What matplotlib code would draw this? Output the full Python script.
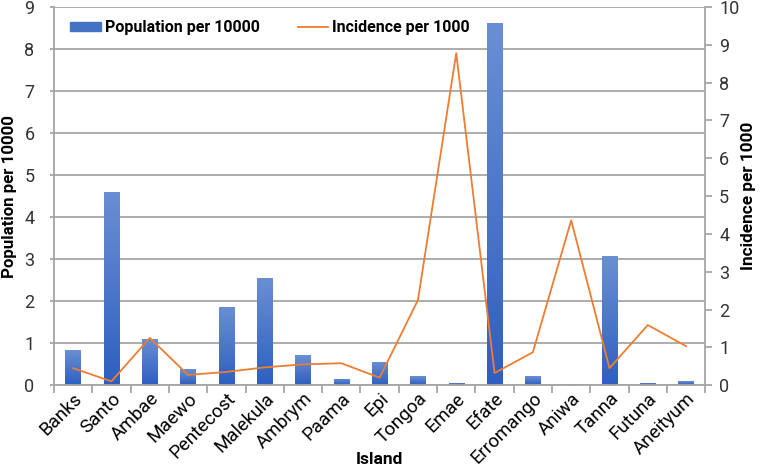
import numpy as np
import matplotlib.pyplot as plt
from matplotlib.colors import LinearSegmentedColormap
from matplotlib.patches import Patch
from matplotlib.lines import Line2D

plt.rcParams['font.family'] = ['Roboto', 'DejaVu Sans']

islands = ['Banks', 'Santo', 'Ambae', 'Maewo', 'Pentecost', 'Malekula', 'Ambrym',
           'Paama', 'Epi', 'Tongoa', 'Emae', 'Efate', 'Erromango', 'Aniwa',
           'Tanna', 'Futuna', 'Aneityum']
population = [0.83, 4.6, 1.1, 0.38, 1.86, 2.55, 0.71, 0.15, 0.55, 0.21, 0.06,
              8.62, 0.21, 0.02, 3.07, 0.05, 0.09]
incidence = [0.45, 0.1, 1.25, 0.27, 0.35, 0.47, 0.55, 0.58, 0.2, 2.25, 8.78,
             0.32, 0.87, 4.36, 0.45, 1.59, 1.03]

fig = plt.figure(figsize=(7.6, 4.68), dpi=100)
ax = fig.add_axes([0.071, 0.177, 0.857, 0.808])
ax2 = ax.twinx()

x = np.arange(len(islands))
w = 0.4
bars = ax.bar(x, population, width=w, color='#4472C4', zorder=2)

# vertical gradient inside each bar (light top, dark bottom)
cmap = LinearSegmentedColormap.from_list('g', ['#2E5FC0', '#6A8FD3'])
grad = np.linspace(0, 1, 256).reshape(-1, 1)
for b in bars:
    h = b.get_height()
    im = ax.imshow(grad, cmap=cmap, aspect='auto', origin='lower',
                   extent=[b.get_x(), b.get_x() + w, 0, h], zorder=2)
    im.set_clip_path(b)

ax2.plot(x, incidence, color='#ED7D31', lw=1.3, zorder=3)

ax.set_xlim(-0.5, len(islands) - 0.5)
ax.set_ylim(0, 9)
ax2.set_ylim(0, 10)
ax.set_yticks(range(10))
ax2.set_yticks(range(11))

ax.grid(axis='y', color='#A6A6A6', lw=1.3, zorder=0)
ax.set_axisbelow(True)

for a in (ax, ax2):
    a.spines['top'].set_visible(False)
    for s in ('left', 'right', 'bottom'):
        a.spines[s].set_color('#A6A6A6')
        a.spines[s].set_linewidth(1.3)
ax.spines['right'].set_visible(False)
ax2.spines['left'].set_visible(False)
ax2.spines['bottom'].set_visible(False)

ax.set_xticks(x)
ax.set_xticklabels(islands, rotation=45, ha='right', va='top',
                   rotation_mode='anchor', fontsize=13.5)
ax.tick_params(axis='x', length=0, pad=3)
ax.set_xticks(np.arange(-0.5, len(islands)), minor=True)
ax.tick_params(axis='x', which='minor', length=6, color='#A6A6A6', width=1.3)
ax.tick_params(axis='y', length=3, color='#A6A6A6', width=1.3, labelsize=13,
               labelcolor='#333333', pad=11)
ax2.tick_params(axis='y', length=5, color='#A6A6A6', width=1.3, labelsize=13,
                labelcolor='#333333', pad=5)

ax.set_xlabel('Island', fontsize=12.5, fontweight='bold')
ax.xaxis.set_label_coords(0.5, -0.177)
ax.set_ylabel('Population per 10000', fontsize=12.2, fontweight='bold')
ax.yaxis.set_label_coords(-0.057, 0.5)
ax2.set_ylabel('Incidence per 1000', fontsize=12.4, fontweight='bold')
ax2.yaxis.set_label_coords(1.055, 0.5)

handles = [Patch(color='#4472C4'), Line2D([], [], color='#ED7D31', lw=1.3)]
ax.legend(handles, ['Population per 10000', 'Incidence per 1000'], ncol=2,
          loc='upper left', bbox_to_anchor=(0.025, 0.965), frameon=False,
          prop={'weight': 'bold', 'size': 11.5}, handlelength=1.9,
          handleheight=0.45, handletextpad=0.25, columnspacing=2.4,
          borderpad=0, borderaxespad=0)

fig.savefig('out.png', dpi=100)
